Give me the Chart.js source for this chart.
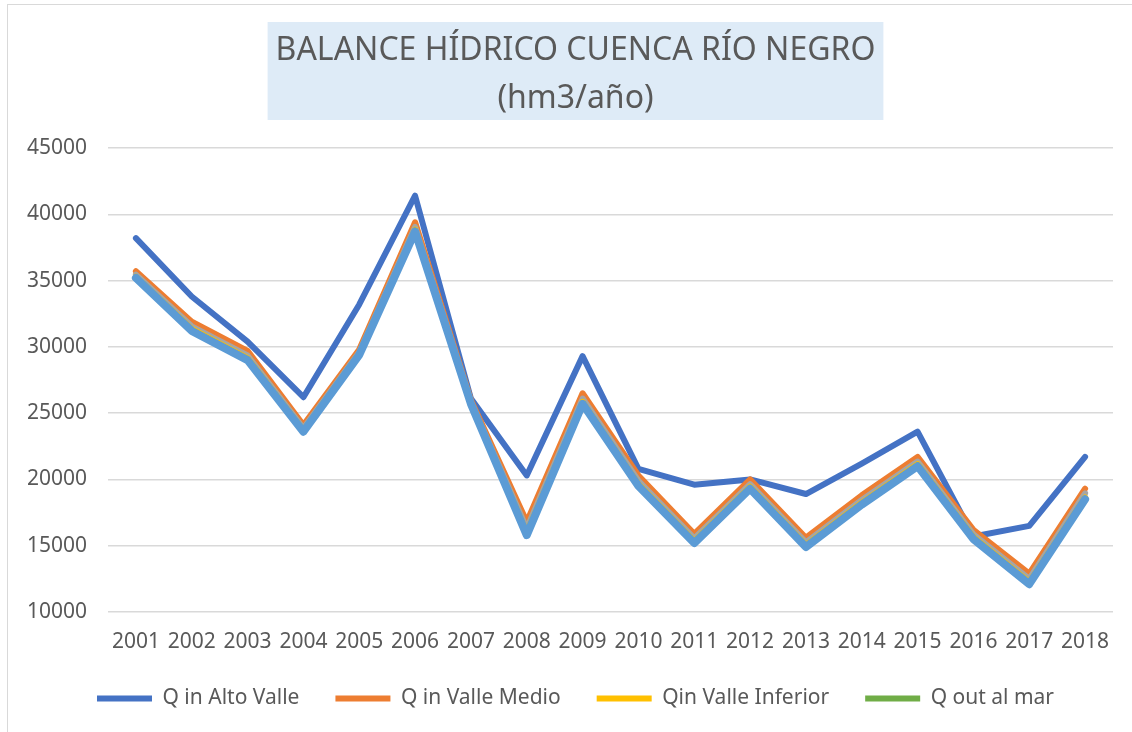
<!DOCTYPE html>
<html lang="es">
<head>
<meta charset="utf-8">
<title>Balance hídrico cuenca Río Negro</title>
<script src="https://cdn.jsdelivr.net/npm/chart.js@4.4.1/dist/chart.umd.min.js"></script>
<style>
  html, body { margin: 0; padding: 0; background: #fff; overflow: hidden; }
  #marco {
    position: absolute; left: 7px; top: 4px;
    border-left: 1px solid #d9d9d9; border-top: 1px solid #d9d9d9;
  }
  #grafico { display: block; }
</style>
</head>
<body>
<div id="marco"><canvas id="grafico" width="1130" height="740"></canvas></div>
<script>
// Años y caudales (hm3/año)
const anios = ['2001', '2002', '2003', '2004', '2005', '2006', '2007', '2008', '2009',
               '2010', '2011', '2012', '2013', '2014', '2015', '2016', '2017', '2018'];

const qinAltoValle = [38200, 33800, 30400, 26200, 33200, 41400, 26100, 20300, 29300,
                      20800, 19600, 20000, 18900, 21200, 23600, 15700, 16500, 21700];
const qinValleMedio = [35700, 31900, 29700, 24100, 29800, 39400, 26000, 16800, 26500,
                       20300, 15900, 20000, 15600, 18800, 21700, 16200, 12900, 19300];
const serie3 = [35450, 31550, 29350, 23850, 29600, 39050, 25850, 16300, 26100,
                19900, 15550, 19650, 15250, 18450, 21350, 15850, 12500, 18950];
const qinValleInferior = [35300, 31350, 29150, 23700, 29500, 38850, 25750, 16000, 25850,
                          19650, 15350, 19450, 15050, 18250, 21150, 15650, 12250, 18650];
const serie5 = [35200, 31200, 29000, 23600, 29400, 38700, 25700, 15800, 25700,
                19500, 15200, 19300, 14900, 18100, 21000, 15500, 12100, 18500];
const qoutMar = [35200, 31250, 29050, 23650, 29450, 38750, 25700, 15850, 25750,
                 19550, 15250, 19350, 14950, 18150, 21050, 15550, 12150, 18550];

const ticksY = [10000, 15000, 20000, 25000, 30000, 35000, 40000, 45000];

const tituloLineas = ['BALANCE HÍDRICO CUENCA RÍO NEGRO', '(hm3/año)'];
const tituloPad = { top: 22, bottom: 25 };
const tituloFuente = { family: "'Noto Sans', sans-serif", size: 32, lineHeight: 1.5 };

Chart.defaults.font.family = "'Noto Sans', sans-serif";
Chart.defaults.color = '#595959';

// Recuadro celeste detrás del título
const fondoTitulo = {
  id: 'fondoTitulo',
  afterLayout(chart) {
    // que las etiquetas del eje Y no se recorten contra el margen izquierdo
    chart.scales.y.left = 0;
  },
  beforeDraw(chart) {
    const t = chart.titleBlock;
    if (!t) return;
    const ctx = chart.ctx;
    ctx.save();
    ctx.font = tituloFuente.size + 'px ' + tituloFuente.family;
    const ancho = Math.max(...tituloLineas.map(l => ctx.measureText(l).width)) + 16;
    const alto = tituloFuente.size * tituloFuente.lineHeight * tituloLineas.length + 2;
    const cx = (t.left + t.right) / 2;
    ctx.fillStyle = '#DEEBF7';
    ctx.fillRect(cx - ancho / 2, t.top + tituloPad.top - 5, ancho, alto);
    ctx.restore();
  }
};

function serie(label, data, color, ancho, orden) {
  return {
    label: label,
    data: data,
    borderColor: color,
    backgroundColor: color,
    borderWidth: ancho,
    borderCapStyle: 'round',
    borderJoinStyle: 'round',
    pointRadius: 0,
    pointHoverRadius: 0,
    tension: 0,
    order: orden
  };
}

const enLeyenda = ['Q in Alto Valle', 'Q in Valle Medio', 'Qin Valle Inferior', 'Q out al mar'];

new Chart(document.getElementById('grafico'), {
  type: 'line',
  data: {
    labels: anios,
    datasets: [
      serie('Q in Alto Valle', qinAltoValle, '#4472C4', 6, 5),
      serie('Q in Valle Medio', qinValleMedio, '#ED7D31', 6, 4),
      serie('Serie3', serie3, '#A5A5A5', 6, 3),
      serie('Qin Valle Inferior', qinValleInferior, '#FFC000', 6, 2),
      serie('Serie5', serie5, '#5B9BD5', 8, 0),
      serie('Q out al mar', qoutMar, '#70AD47', 6, 1)
    ]
  },
  options: {
    responsive: false,
    animation: false,
    layout: { padding: { left: 30, right: 25, top: 0, bottom: 26 } },
    plugins: {
      title: {
        display: true,
        text: tituloLineas,
        color: '#595959',
        font: { size: tituloFuente.size, weight: 'normal', lineHeight: tituloFuente.lineHeight },
        padding: tituloPad
      },
      legend: {
        position: 'bottom',
        labels: {
          usePointStyle: true,
          pointStyle: 'line',
          pointStyleWidth: 55,
          boxHeight: 21,
          padding: 36,
          color: '#595959',
          font: { size: 21 },
          filter: item => enLeyenda.includes(item.text),
          sort: (a, b) => a.datasetIndex - b.datasetIndex
        }
      },
      tooltip: { enabled: false }
    },
    scales: {
      x: {
        offset: true,
        grid: { display: false, drawTicks: false },
        border: { display: false },
        ticks: { font: { size: 21 }, padding: 17, maxRotation: 0, autoSkip: false, color: '#595959' },
        afterFit: scale => { scale.height = 40; }
      },
      y: {
        min: 10000,
        max: 45000,
        afterBuildTicks: scale => { scale.ticks = ticksY.map(v => ({ value: v })); },
        grid: { color: '#D9D9D9', lineWidth: 1.5, drawTicks: false },
        border: { display: false },
        ticks: { font: { size: 21 }, padding: 21, color: '#595959', callback: v => String(v) },
        afterFit: scale => { scale.width = 70; }
      }
    }
  },
  plugins: [fondoTitulo]
});
</script>
</body>
</html>
